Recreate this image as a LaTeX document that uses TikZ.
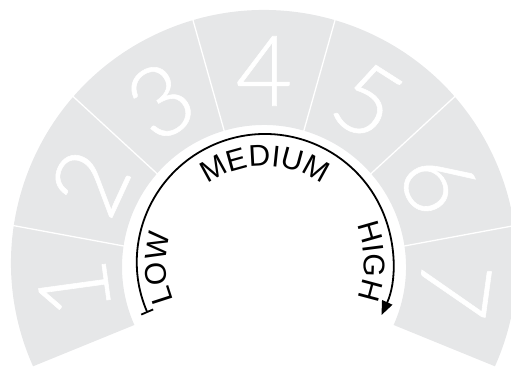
\documentclass[tikz,border=0pt]{standalone}
\usepackage{fontspec}
\setsansfont{Liberation Sans}
\newfontfamily\digitfont{Lato Light}[BoldFont={Lato Light}, BoldFeatures={FakeBold=0.6}]
\usetikzlibrary{arrows.meta,decorations.text,calc}
\definecolor{dialgray}{RGB}{230,231,232}
\tikzset{
  digit/.style={text=white, font=\digitfont\bfseries\fontsize{98}{98}\selectfont, inner sep=0pt},
  divider/.style={white, line width=1.3pt},
  dialarrow/.style={line width=1.8pt, {Bar[width=13pt,line width=1.8pt]}-{Triangle[length=14pt,width=11pt]}},
  arclabel/.style={decorate, decoration={text along path, text align=center, text={#1}}}
}
\begin{document}
\begin{tikzpicture}[x=1pt,y=1pt]
\useasboundingbox (0,0) rectangle (511,367);
\coordinate (O) at (264,104);
\coordinate (I) at (264,100);
\coordinate (A) at (265,105);
% gray dial band
\fill[dialgray] ($(O)+(204.1:253)$) arc[start angle=204.1, end angle=-24.1, radius=253]
  -- ($(I)+(-24.1:142)$) arc[start angle=-24.1, end angle=204.1, radius=142] -- cycle;
% dividers
\foreach \i in {1,...,6} {
  \pgfmathsetmacro\a{204.1-32.6*\i}
  \draw[divider] ($(I)+(\a:141)$) -- ($(O)+(\a:254)$);
}
% digits
\foreach \i in {1,...,7} {
  \pgfmathsetmacro\a{204.1-32.6*\i+16.3}
  \pgfmathsetmacro\r{\a-90}
  \node[digit, rotate=\r] (d\i) at ($(O)+(\a:192)$) {\i};
}
% arrow arc
\coordinate (s) at ($(A)+(203.4:128)$);
\draw[dialarrow] (s) arc[start angle=203.4, end angle=-24.5, radius=128];
% labels
\path[arclabel={|\sffamily\fontsize{30}{33}\selectfont|LOW}] ($(A)+(220:99)$) arc[start angle=220, end angle=146, radius=99];
\path[arclabel={|\sffamily\fontsize{30}{33}\selectfont|MEDIUM}] ($(A)+(160:96)$) arc[start angle=160, end angle=20, radius=96];
\path[arclabel={|\sffamily\fontsize{30}{33}\selectfont|HIGH}] ($(A)+(39:99)$) arc[start angle=39, end angle=-38, radius=99];
\end{tikzpicture}
\end{document}
